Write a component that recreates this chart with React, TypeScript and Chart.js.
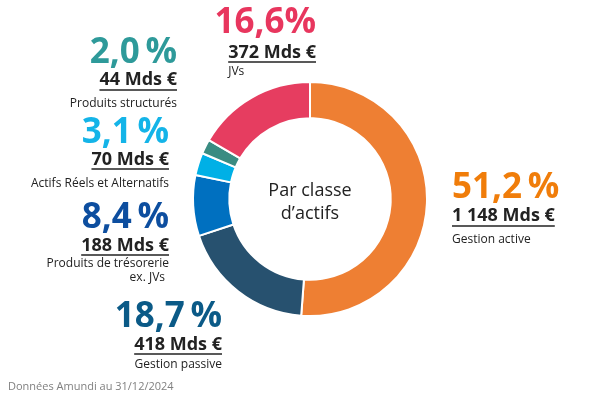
import React, { useEffect, useRef } from "react";
import { Chart, registerables } from "chart.js";

Chart.register(...registerables);

const categories = ["Gestion active", "Gestion passive", "Produits de trésorerie\nex. JVs", "Actifs Réels et Alternatifs", "Produits structurés", "JVs"];
const percents = [51.2, 18.7, 8.4, 3.1, 2.0, 16.6];
const pctLabels = ["51,2\u2009%", "18,7\u2009%", "8,4\u2009%", "3,1\u2009%", "2,0\u2009%", "16,6%"];
const amounts = ["1 148 Mds €", "418 Mds €", "188 Mds €", "70 Mds €", "44 Mds €", "372 Mds €"];
const sliceColors = ["#EE7F33", "#27516F", "#0070C0", "#00B0E6", "#3A8C82", "#E63D60"];
const textColors = ["#F07D0A", "#0B5A87", "#0D4E9F", "#14B4E8", "#2E9A9A", "#E8365E"];
const centerText = ["Par classe", "d\u2019actifs"];
const footer = "Données Amundi au 31/12/2024";

// label anchors: x = anchor, align = side of text, y's = baselines
const labelLayout = [
  { x: 452, align: "left", pctY: 198, amtY: 221, lineY: 226, catAlign: "left", catY: 243 },
  { x: 222, align: "right", pctY: 327, amtY: 350, lineY: 354, catAlign: "right", catY: 368 },
  { x: 169, align: "right", pctY: 228, amtY: 251, lineY: 255, catAlign: "right", catY: 267 },
  { x: 169, align: "right", pctY: 143, amtY: 165, lineY: 169, catAlign: "right", catY: 187 },
  { x: 177, align: "right", pctY: 63, amtY: 85, lineY: 90, catAlign: "right", catY: 107 },
  { x: 316, align: "right", pctY: 33, amtY: 58, lineY: 62, catAlign: "lineLeft", catY: 75 },
];

const FONT = "'Open Sans', 'Noto Sans', sans-serif";

const labelsPlugin = {
  id: "amundiLabels",
  afterDraw(chart: any) {
    const ctx = chart.ctx as CanvasRenderingContext2D;
    ctx.save();
    ctx.textBaseline = "alphabetic";
    labelLayout.forEach((l, i) => {
      const align = l.align as CanvasTextAlign;
      ctx.textAlign = align;
      ctx.fillStyle = textColors[i];
      ctx.font = `700 35px ${FONT}`;
      ctx.fillText(pctLabels[i], l.x, l.pctY);
      ctx.fillStyle = "#222";
      ctx.font = `700 18px ${FONT}`;
      ctx.fillText(amounts[i], l.x, l.amtY);
      const w = ctx.measureText(amounts[i]).width;
      const x0 = align === "right" ? l.x - w : l.x;
      ctx.strokeStyle = "#222";
      ctx.lineWidth = 1.5;
      ctx.beginPath();
      ctx.moveTo(x0, l.lineY);
      ctx.lineTo(x0 + w, l.lineY);
      ctx.stroke();
      ctx.font = `400 12px ${FONT}`;
      const lines = categories[i].split("\n");
      let cx = l.x;
      let ca: CanvasTextAlign = l.catAlign === "left" ? "left" : "right";
      if (l.catAlign === "lineLeft") { cx = x0; ca = "left"; }
      ctx.textAlign = ca;
      lines.forEach((t, k) => ctx.fillText(t, ca === "right" && k > 0 ? cx - 4 : cx, l.catY + k * 14));
    });
    // center text
    const meta = chart.getDatasetMeta(0);
    const arc = meta.data[0];
    ctx.textAlign = "center";
    ctx.fillStyle = "#222";
    ctx.font = `400 18px ${FONT}`;
    ctx.fillText(centerText[0], arc.x, arc.y - 3);
    ctx.fillText(centerText[1], arc.x, arc.y + 20);
    // footer
    ctx.textAlign = "left";
    ctx.fillStyle = "#808080";
    ctx.font = `400 11px ${FONT}`;
    ctx.fillText(footer, 8, 390);
    ctx.restore();
  },
};

export default function App() {
  const ref = useRef<HTMLCanvasElement>(null);
  useEffect(() => {
    document.body.style.margin = "0";
    const chart = new Chart(ref.current!, {
      type: "doughnut",
      data: {
        labels: categories,
        datasets: [
          {
            data: percents,
            backgroundColor: sliceColors,
            borderColor: "#ffffff",
            borderWidth: 2,
            hoverOffset: 0,
            offset: 0,
          },
        ],
      },
      options: {
        animation: false,
        responsive: false,
        cutout: "69%",
        rotation: 0,
        layout: { padding: { top: 81, bottom: 83, left: 192, right: 172 } },
        plugins: { legend: { display: false }, tooltip: { enabled: false } },
      },
      plugins: [labelsPlugin],
    });
    return () => chart.destroy();
  }, []);
  return (
    <div style={{ width: 600, height: 400, background: "#fff" }}>
      <canvas ref={ref} width={600} height={400} style={{ display: "block" }} />
    </div>
  );
}
